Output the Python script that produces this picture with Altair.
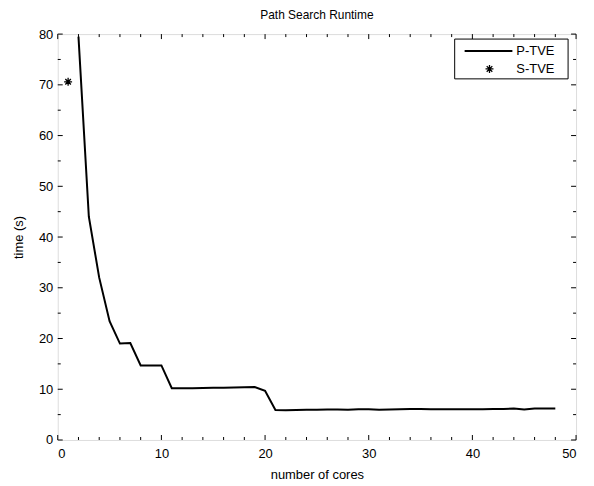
import altair as alt
import pandas as pd

FONT = "Liberation Sans"

cores = list(range(2, 49))
p_tve = [79.5, 44.0, 32.0, 23.4, 19.0, 19.1, 14.7, 14.7, 14.7, 10.2,
         10.2, 10.2, 10.25, 10.3, 10.3, 10.35, 10.4, 10.45, 9.7, 5.9,
         5.85, 5.9, 5.95, 5.95, 6.0, 6.0, 5.95, 6.05, 6.05, 5.95,
         6.0, 6.05, 6.1, 6.1, 6.05, 6.05, 6.05, 6.05, 6.05, 6.05,
         6.1, 6.1, 6.2, 6.0, 6.2, 6.2, 6.2]
s_cores = [1]
s_tve = [70.6]

x_major = [0, 10, 20, 30, 40, 50]
x_minor = [v for v in range(0, 51, 2) if v % 10 != 0]
y_major = [0, 10, 20, 30, 40, 50, 60, 70, 80]
y_minor = [v for v in range(5, 80, 10)]

legend_labels = ["P-TVE", "S-TVE"]

W, H = 521, 408

xs = alt.Scale(domain=[0, 50], nice=False, zero=False)
ys = alt.Scale(domain=[0, 80], nice=False, zero=False)

XAX = alt.Axis(values=x_major, ticks=False, domain=False, grid=False,
               labelFont=FONT, labelFontSize=13, labelColor="black",
               labelPadding=8, titleFont=FONT, titleFontSize=13,
               titleFontWeight="normal", titleColor="black", titlePadding=8)
YAX = alt.Axis(values=y_major, ticks=False, domain=False, grid=False,
               labelFont=FONT, labelFontSize=13, labelColor="black",
               labelPadding=5, titleFont=FONT, titleFontSize=13,
               titleFontWeight="normal", titleColor="black", titlePadding=13)

df_line = pd.DataFrame({"cores": cores, "time": p_tve})
df_star = pd.DataFrame({"cores": s_cores, "time": s_tve})

ASTER = "M-1,0L1,0M0,-1L0,1M-0.7,-0.7L0.7,0.7M-0.7,0.7L0.7,-0.7"

line = alt.Chart(df_line).mark_line(color="black", strokeWidth=2).encode(
    x=alt.X("cores:Q", scale=xs, title="number of cores", axis=XAX),
    y=alt.Y("time:Q", scale=ys, title="time (s)", axis=YAX),
)

star = alt.Chart(df_star).mark_point(shape=ASTER, filled=False, stroke="black",
                                     strokeWidth=1.3, size=64, opacity=1).encode(
    x=alt.X("cores:Q", scale=xs, title="number of cores", axis=XAX),
    y=alt.Y("time:Q", scale=ys, title="time (s)", axis=YAX),
)

def xticks(vals, length):
    d = pd.DataFrame({"cores": vals})
    b = alt.Chart(d).mark_rule(color="black", strokeWidth=1)
    xe = alt.X("cores:Q", scale=xs, title="number of cores", axis=XAX)
    bottom = b.encode(x=xe, y=alt.value(H), y2=alt.value(H - length))
    top = b.encode(x=xe, y=alt.value(0), y2=alt.value(length))
    return [bottom, top]

def yticks(vals, length):
    d = pd.DataFrame({"time": vals})
    b = alt.Chart(d).mark_rule(color="black", strokeWidth=1)
    ye = alt.Y("time:Q", scale=ys, title="time (s)", axis=YAX)
    left = b.encode(y=ye, x=alt.value(0), x2=alt.value(length))
    right = b.encode(y=ye, x=alt.value(W), x2=alt.value(W - length))
    return [left, right]

ticks = xticks(x_major, 5) + xticks(x_minor, 3) + yticks(y_major, 5) + yticks(y_minor, 3)

# legend
leg_df = pd.DataFrame({"label": legend_labels})
first = alt.datum.label == legend_labels[0]
second = alt.datum.label == legend_labels[1]
leg_box = alt.Chart(leg_df).mark_rect(fill="white", stroke="black", strokeWidth=1).encode(
    x=alt.value(399), x2=alt.value(513), y=alt.value(5), y2=alt.value(45)
).transform_filter(first)
leg_line = alt.Chart(leg_df).mark_rule(color="black", strokeWidth=2).encode(
    x=alt.value(409), x2=alt.value(457), y=alt.value(17)
).transform_filter(first)
leg_star = alt.Chart(leg_df).mark_point(shape=ASTER, filled=False, stroke="black",
                                        strokeWidth=1.3, size=64, opacity=1).encode(
    x=alt.value(434), y=alt.value(35)
).transform_filter(second)
leg_text1 = alt.Chart(leg_df).mark_text(align="left", baseline="middle", font=FONT,
                                        fontSize=13, color="black").encode(
    x=alt.value(461), y=alt.value(17), text="label:N",
).transform_filter(first)
leg_text2 = alt.Chart(leg_df).mark_text(align="left", baseline="middle", font=FONT,
                                        fontSize=13, color="black").encode(
    x=alt.value(461), y=alt.value(35), text="label:N",
).transform_filter(second)

chart = alt.layer(line, star, *ticks, leg_box, leg_line, leg_star, leg_text1, leg_text2).properties(
    width=W, height=H,
    title=alt.TitleParams("Path Search Runtime", font=FONT, fontSize=12,
                          fontWeight="normal", color="black", anchor="middle", offset=6),
    autosize=alt.AutoSizeParams(type="none"),
    padding={"left": 50, "top": 25, "right": 10, "bottom": 40},
).configure_view(stroke="black", strokeWidth=1).configure(background="white")

chart.save("out.html", embed_options={"renderer": "svg", "actions": False})
